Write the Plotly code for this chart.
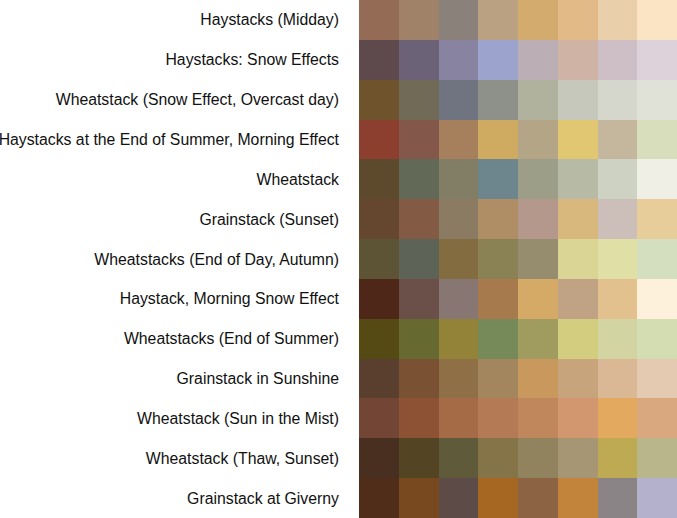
import plotly.graph_objects as go

paintings = [
    "Haystacks (Midday)",
    "Haystacks: Snow Effects",
    "Wheatstack (Snow Effect, Overcast day)",
    "Haystacks at the End of Summer, Morning Effect",
    "Wheatstack",
    "Grainstack (Sunset)",
    "Wheatstacks (End of Day, Autumn)",
    "Haystack, Morning Snow Effect",
    "Wheatstacks (End of Summer)",
    "Grainstack in Sunshine",
    "Wheatstack (Sun in the Mist)",
    "Wheatstack (Thaw, Sunset)",
    "Grainstack at Giverny",
]

palettes = [
    ["#946B55", "#A08269", "#8A817B", "#BAA181", "#D4AB6E", "#E2BA87", "#E9D0AA", "#FBE4C3"],
    ["#5E4A4C", "#6C6277", "#8783A0", "#9CA4CE", "#BBAFB5", "#CFB3A5", "#CDBFC5", "#DDD2D9"],
    ["#6E532D", "#716A57", "#6F7480", "#8E908A", "#B0B29E", "#C6C8BB", "#D5D6CC", "#E1E2D7"],
    ["#8C3F2F", "#83584B", "#A67F5D", "#CEAB60", "#B5A587", "#E1C772", "#C4B79D", "#D8DDBB"],
    ["#5D4A2D", "#626957", "#817E65", "#6D858D", "#9D9E88", "#B7BBA6", "#CDD2C3", "#EFEFE5"],
    ["#65462E", "#835A43", "#8A7B62", "#AF8E66", "#B3988B", "#D8B87C", "#CCBEB8", "#E7CD99"],
    ["#5D5435", "#5D6356", "#836C3F", "#8A8155", "#968C6E", "#DAD595", "#E0DFA6", "#D4DFC0"],
    ["#4E2719", "#6A5048", "#887673", "#A67A4D", "#D4AA66", "#C0A385", "#E3C18E", "#FDF1DC"],
    ["#554914", "#666A30", "#928339", "#768959", "#A09C5F", "#D3CD80", "#D2D4A1", "#D4DDB2"],
    ["#5B3F2E", "#7A5133", "#8F6F45", "#A3865D", "#C9985D", "#C7A47C", "#DAB895", "#E4CAB1"],
    ["#734535", "#8C5233", "#A46B46", "#B47A56", "#C1875C", "#D2976E", "#E3A95E", "#DAA87E"],
    ["#482F20", "#534424", "#5E5A3A", "#857447", "#90835E", "#A69673", "#BEAA52", "#B8B68A"],
    ["#4F2D19", "#78491E", "#5D4B48", "#A56721", "#8C6343", "#C2843B", "#8A8487", "#B3B1CB"],
]

n_colors = 8

fig = go.Figure()
for j in range(n_colors):
    fig.add_trace(go.Bar(
        y=paintings,
        x=[1] * len(paintings),
        orientation="h",
        marker=dict(color=[p[j] for p in palettes], line=dict(width=0)),
        showlegend=False,
        hoverinfo="y",
    ))

fig.update_layout(
    width=677, height=518,
    margin=dict(l=359, r=0, t=0, b=0),
    barmode="stack", bargap=0,
    plot_bgcolor="white", paper_bgcolor="white",
    font=dict(family="Liberation Sans, Arial, sans-serif", size=15.8, color="#111"),
    xaxis=dict(visible=False, range=[0, n_colors], fixedrange=True),
    yaxis=dict(autorange="reversed", showgrid=False, zeroline=False, ticks="",
               ticklabelstandoff=19, showline=False),
)

fig.write_html("out.html")
